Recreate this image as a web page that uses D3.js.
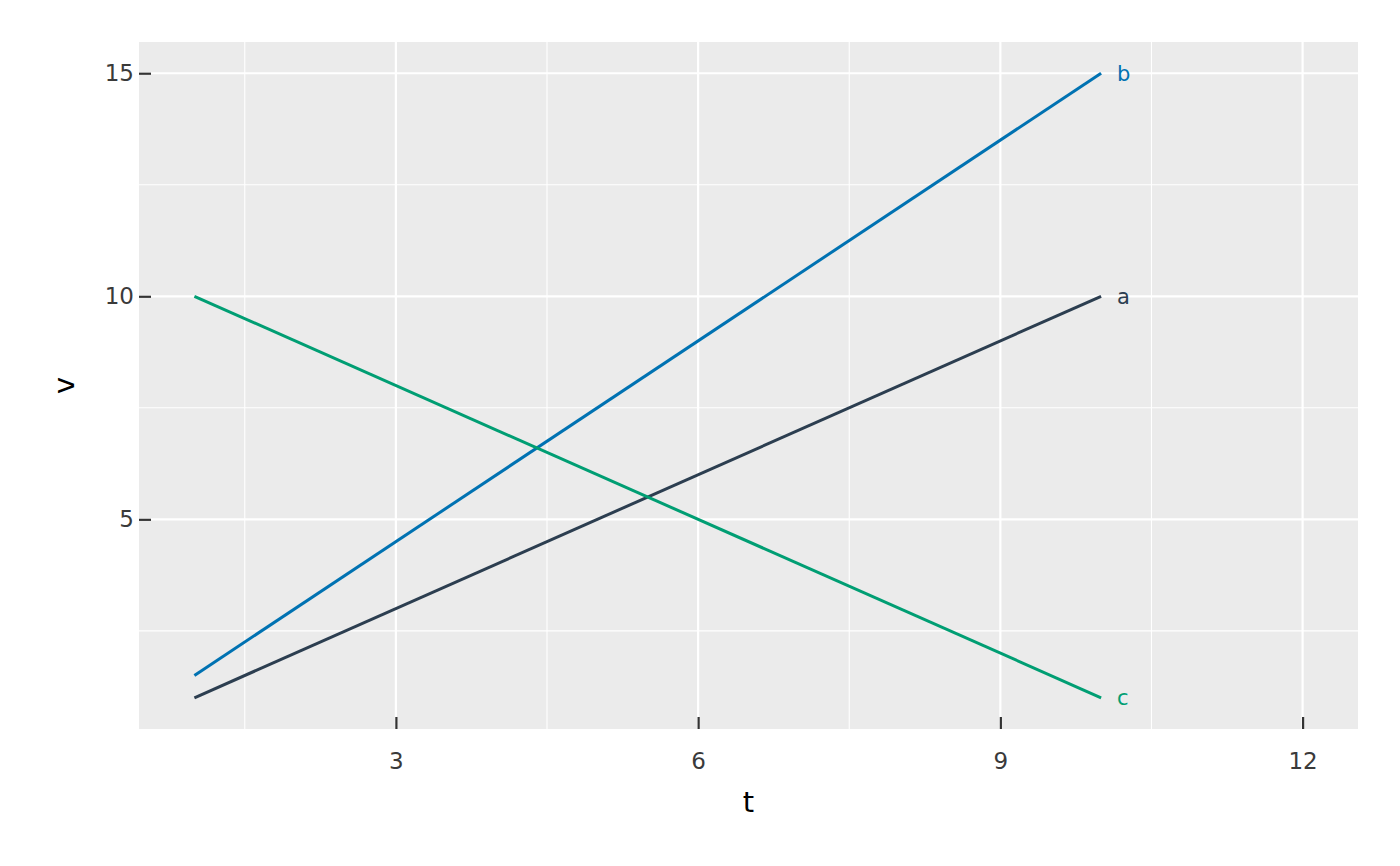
<!DOCTYPE html>
<html><head><meta charset="utf-8">
<script src="https://cdn.jsdelivr.net/npm/d3@7"></script>
<style>body{margin:0;background:#fff}text{font-family:"DejaVu Sans",sans-serif}</style>
</head><body><svg id="c" width="1400" height="866"></svg>
<script>
const tValues = [1, 10];
const seriesNames = ["a", "b", "c"];
const seriesA = [1, 10];
const seriesB = [1.5, 15];
const seriesC = [10, 1];
const seriesColors = ["#2c3e50", "#0072b2", "#009e73"];
const xTicks = [3, 6, 9, 12];
const xMinor = [1.5, 4.5, 7.5, 10.5];
const yTicks = [5, 10, 15];
const yMinor = [2.5, 7.5, 12.5];

const series = [seriesA, seriesB, seriesC];
const svg = d3.select("#c");
const L = 139, R = 1358, T = 42, B = 729;
const x = d3.scaleLinear().domain([0.45, 12.55]).range([L, R]);
const y = d3.scaleLinear().domain([0.3, 15.7]).range([B, T]);

svg.append("rect").attr("x", L).attr("y", T).attr("width", R - L).attr("height", B - T).attr("fill", "#ebebeb");
const g = svg.append("g");
g.selectAll(".vmin").data(xMinor).join("line").attr("x1", d => x(d)).attr("x2", d => x(d)).attr("y1", T).attr("y2", B).attr("stroke", "#fff").attr("stroke-width", 1.1);
g.selectAll(".hmin").data(yMinor).join("line").attr("y1", d => y(d)).attr("y2", d => y(d)).attr("x1", L).attr("x2", R).attr("stroke", "#fff").attr("stroke-width", 1.1);
g.selectAll(".vmaj").data(xTicks).join("line").attr("x1", d => x(d)).attr("x2", d => x(d)).attr("y1", T).attr("y2", B).attr("stroke", "#fff").attr("stroke-width", 2.2);
g.selectAll(".hmaj").data(yTicks).join("line").attr("y1", d => y(d)).attr("y2", d => y(d)).attr("x1", L).attr("x2", R).attr("stroke", "#fff").attr("stroke-width", 2.2);

const xa = svg.append("g").attr("transform", `translate(0,${B})`)
  .call(d3.axisBottom(x).tickValues(xTicks).tickSize(-12).tickPadding(24).tickFormat(d3.format("d")));
const ya = svg.append("g").attr("transform", `translate(${L},0)`)
  .call(d3.axisLeft(y).tickValues(yTicks).tickSize(-12).tickPadding(5).tickFormat(d3.format("d")));
[xa, ya].forEach(a => {
  a.select(".domain").remove();
  a.selectAll(".tick line").attr("stroke", "#333").attr("stroke-width", 2.2);
  a.selectAll(".tick text").attr("fill", "#3a3a3a").style("font-size", "23px");
});
ya.selectAll(".tick text").attr("x", -5);

const line = d3.line().x((d, i) => x(tValues[i])).y(d => y(d));
svg.selectAll(".ser").data(series).join("path").attr("d", d => line(d)).attr("fill", "none")
  .attr("stroke", (d, i) => seriesColors[i]).attr("stroke-width", 3);
svg.selectAll(".lab").data(series).join("text")
  .attr("x", x(tValues[1]) + 16).attr("y", d => y(d[1])).attr("dy", "0.35em")
  .attr("fill", (d, i) => seriesColors[i]).style("font-size", "21px").text((d, i) => seriesNames[i]);

svg.append("text").attr("x", (L + R) / 2).attr("y", 812).attr("text-anchor", "middle").style("font-size", "29px").attr("fill", "#000").text("t");
svg.append("text").attr("transform", `translate(74,${(T + B) / 2}) rotate(-90)`).attr("text-anchor", "middle").style("font-size", "29px").attr("fill", "#000").text("v");
</script></body></html>
